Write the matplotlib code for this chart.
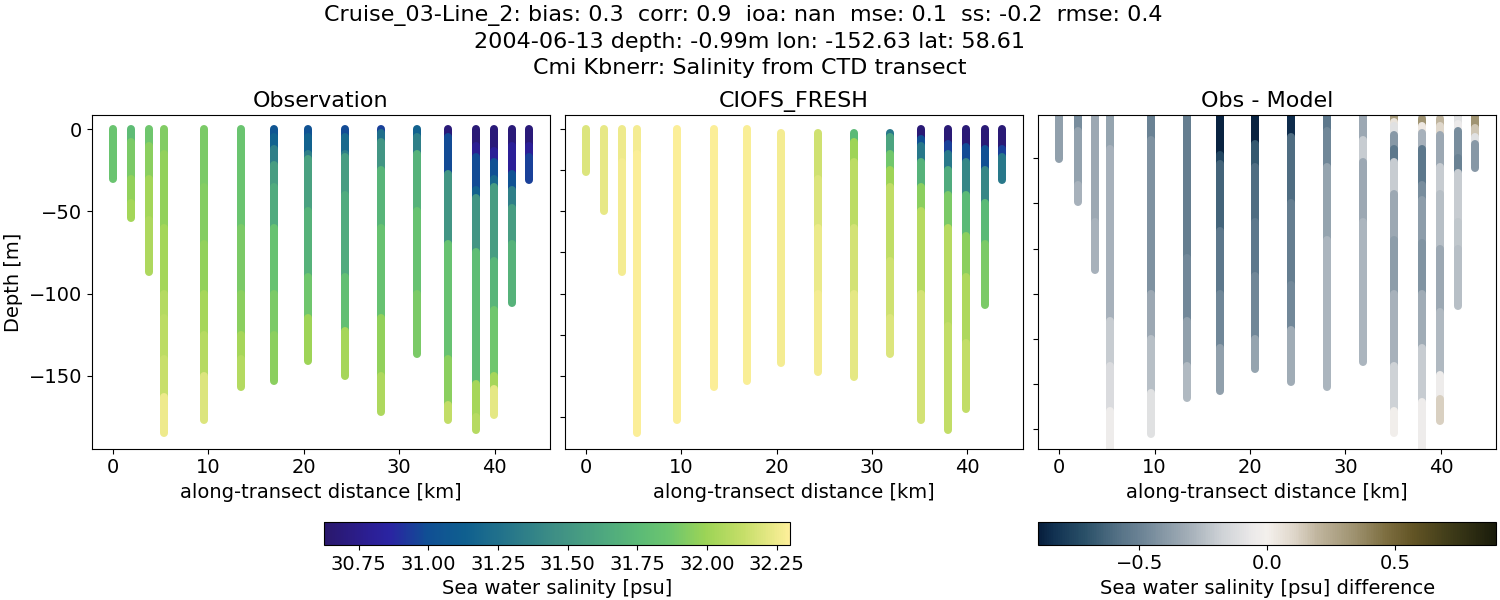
import matplotlib
matplotlib.use('Agg')
import matplotlib.pyplot as plt
from matplotlib.colors import LinearSegmentedColormap, Normalize
from matplotlib.cm import ScalarMappable

# along-transect distance of each cast [km]
distance = [0, 1.93, 3.81, 5.38, 9.6, 13.4, 16.9, 20.5, 24.3, 28.1, 31.85, 35.1, 38.0, 39.9, 41.8, 43.6]

# band edges [m] and salinity of each band, one list per cast
obs_edges = [
    [0, -30],
    [0, -8, -30, -45, -54],
    [0, -10, -30, -55, -87],
    [0, -15, -60, -100, -115, -140, -163, -185],
    [0, -35, -70, -100, -125, -150, -177],
    [0, -60, -100, -125, -140, -157],
    [0, -5, -12, -22, -35, -60, -100, -125, -153],
    [0, -5, -15, -18, -50, -90, -115, -141],
    [0, -5, -15, -17, -40, -90, -123, -150],
    [0, -2, -8, -25, -60, -115, -150, -172],
    [0, -5, -15, -50, -100, -137],
    [0, -5, -27, -70, -140, -168, -177],
    [0, -10, -17, -37, -42, -75, -155, -175, -183],
    [0, -13, -20, -30, -35, -80, -110, -150, -158, -174],
    [0, -10, -27, -37, -48, -70, -106],
    [0, -10, -17, -31],
]
obs_sal = [
    [31.85],
    [31.77, 31.9, 31.97, 32.02],
    [31.87, 31.95, 32.02, 32.05],
    [31.92, 31.97, 32.02, 32.07, 32.1, 32.14, 32.25],
    [31.9, 31.93, 31.97, 32.03, 32.08, 32.2],
    [31.85, 31.9, 31.95, 32.03, 32.07],
    [31.05, 31.15, 31.35, 31.55, 31.65, 31.83, 31.9, 31.95],
    [31.02, 31.15, 31.35, 31.58, 31.7, 31.87, 32.0],
    [30.98, 31.2, 31.35, 31.55, 31.65, 31.8, 32.03],
    [30.95, 31.25, 31.5, 31.72, 31.83, 31.97, 32.05],
    [31.15, 31.35, 31.7, 31.83, 31.9],
    [30.68, 30.98, 31.5, 31.83, 31.95, 32.12],
    [30.67, 30.78, 30.98, 31.15, 31.5, 31.78, 32.03, 32.08],
    [30.68, 30.8, 31.0, 31.2, 31.55, 31.72, 31.87, 32.03, 32.22],
    [30.68, 30.8, 31.02, 31.35, 31.55, 31.7],
    [30.68, 30.8, 30.95],
]

model_edges = [
    [0, -26],
    [0, -50],
    [0, -20, -87],
    [0, -15, -185],
    [0, -177],
    [0, -157],
    [0, -153],
    [-2, -142],
    [-2, -30, -60, -100, -148],
    [-2, -8, -20, -60, -100, -151],
    [-2, -5, -15, -25, -35, -80, -115, -137],
    [0, -6, -10, -20, -35, -50, -100, -177],
    [0, -9, -15, -25, -40, -60, -120, -183],
    [0, -11, -20, -40, -65, -90, -130, -170],
    [0, -12, -25, -45, -70, -107],
    [0, -12, -17, -31],
]
model_sal = [
    [32.2],
    [32.23],
    [32.25, 32.27],
    [32.27, 32.29],
    [32.29],
    [32.29],
    [32.28],
    [32.27],
    [32.16, 32.2, 32.24, 32.27],
    [31.75, 32.0, 32.1, 32.17, 32.22],
    [31.3, 31.6, 31.88, 32.0, 32.11, 32.16, 32.2],
    [30.67, 31.0, 31.3, 31.7, 31.95, 32.08, 32.17],
    [30.67, 30.95, 31.3, 31.65, 31.9, 32.08, 32.12],
    [30.67, 30.98, 31.4, 31.75, 31.95, 32.05, 32.12],
    [30.67, 31.0, 31.4, 31.75, 31.9],
    [30.67, 30.95, 31.3],
]

diff_edges = [
    [0, -25.5],
    [0, -10, -40, -49.4],
    [0, -60, -87],
    [0, -20, -115, -140, -165, -190],
    [0, -15, -100, -125, -155, -177.5],
    [0, -80, -115, -140, -157.7],
    [0, -23, -28, -65, -100, -130, -153.6],
    [0, -17, -30, -60, -90, -125, -141.6],
    [0, -13, -50, -95, -120, -148.7],
    [0, -10, -30, -70, -151.6],
    [0, -15, -27, -60, -137.8],
    [-1, -5, -7, -12, -20, -27, -45, -70, -100, -140, -165, -177],
    [0, -3, -7, -11, -20, -40, -48, -72, -100, -130, -160, -190],
    [0, -3, -7, -12, -30, -45, -75, -110, -145, -158, -170.5],
    [0, -2, -6, -10, -25, -33, -60, -75, -106.9],
    [-1, -8, -13, -17, -30.4],
]
diff_sal = [
    [-0.37],
    [-0.45, -0.36, -0.3],
    [-0.33, -0.3],
    [-0.35, -0.3, -0.2, -0.13, -0.04],
    [-0.5, -0.43, -0.33, -0.25, -0.1],
    [-0.52, -0.47, -0.37, -0.27],
    [-0.88, -0.75, -0.63, -0.55, -0.48, -0.37],
    [-0.88, -0.68, -0.6, -0.55, -0.48, -0.35],
    [-0.85, -0.6, -0.52, -0.47, -0.32],
    [-0.55, -0.48, -0.35, -0.28],
    [-0.33, -0.2, -0.33, -0.28],
    [0.3, 0.05, -0.1, -0.4, -0.55, -0.2, -0.33, -0.38, -0.3, -0.18, -0.02],
    [-0.2, 0.33, 0.03, -0.3, -0.55, -0.45, -0.38, -0.42, -0.32, -0.2, -0.04],
    [-0.05, 0.2, 0.1, -0.33, -0.2, -0.25, -0.33, -0.27, -0.04, 0.12],
    [-0.3, -0.1, -0.05, -0.45, -0.5, -0.2, -0.22, -0.25],
    [0.33, 0.15, -0.1, -0.4],
]

# cmocean is not available, so both maps are rebuilt from colours read off the colorbars
haline = LinearSegmentedColormap.from_list('haline', [
    (0.00, '#2a186c'), (0.10, '#2b1f96'), (0.14, '#2a24a2'), (0.22, '#104f94'),
    (0.30, '#0f5f8f'), (0.40, '#27778a'), (0.50, '#3f9085'), (0.60, '#4ea87f'),
    (0.68, '#5cbb76'), (0.74, '#6cc56f'), (0.82, '#9cd456'), (0.90, '#c5de68'),
    (1.00, '#fdef9a')])
diff_map = LinearSegmentedColormap.from_list('diff', [
    (0.00, '#071e3c'), (0.03, '#103050'), (0.10, '#2a5068'), (0.18, '#587488'),
    (0.22, '#6a8294'), (0.32, '#9fabb5'), (0.40, '#ced2d6'), (0.47, '#eceaea'),
    (0.50, '#f4f0ec'), (0.556, '#e0d8cc'), (0.61, '#c0b59e'), (0.687, '#a09472'),
    (0.76, '#7d6e40'), (0.82, '#625425'), (0.905, '#3d3a18'), (1.00, '#1a1c0b')])

sal_norm = Normalize(30.627, 32.298)
diff_norm = Normalize(-0.895, 0.895)

fs = 14
fig = plt.figure(figsize=(15, 6), dpi=100)
W, H = 1500., 600.


def px_axes(left, right, top, bottom):
    return fig.add_axes([left / W, 1 - bottom / H, (right - left) / W, (bottom - top) / H])


def draw_casts(ax, edges, values, cmap, norm):
    # deeper bands go on top of the shallower ones
    for x, e, v in zip(distance, edges, values):
        ax.vlines([x] * len(v), e[:-1], e[1:], colors=[cmap(norm(s)) for s in v],
                  linewidth=5.76, capstyle='round')


ax1 = px_axes(92.0, 549.8, 115.3, 448.5)
ax2 = px_axes(564.8, 1022.6, 115.3, 448.5)
ax3 = px_axes(1038.3, 1496.1, 115.3, 448.5)

draw_casts(ax1, obs_edges, obs_sal, haline, sal_norm)
draw_casts(ax2, model_edges, model_sal, haline, sal_norm)
draw_casts(ax3, diff_edges, diff_sal, diff_map, diff_norm)

for ax, title in zip([ax1, ax2, ax3], ['Observation', 'CIOFS_FRESH', 'Obs - Model']):
    ax.set_title(title, fontsize=16, pad=6)
    ax.set_xlim(-2.18, 45.78)
    ax.set_xticks([0, 10, 20, 30, 40])
    ax.set_xlabel('along-transect distance [km]', fontsize=fs)
    ax.tick_params(labelsize=fs)

ax1.set_ylim(-194.3, 8.5)
ax1.set_yticks([0, -50, -100, -150])
ax1.set_ylabel('Depth [m]', fontsize=fs)

ax2.set_ylim(-194.3, 8.5)
ax2.set_yticks([0, -25, -50, -75, -100, -125, -150, -175])
ax2.set_yticklabels([])

ax3.set_ylim(-185.6, -1.2)
ax3.set_yticks([-25, -50, -75, -100, -125, -150, -175])
ax3.set_yticklabels([])

cax1 = px_axes(324.4, 790.0, 522.3, 545)
cb1 = fig.colorbar(ScalarMappable(sal_norm, haline), cax=cax1, orientation='horizontal')
cb1.set_ticks([30.75, 31.0, 31.25, 31.5, 31.75, 32.0, 32.25])
cb1.set_ticklabels(['30.75', '31.00', '31.25', '31.50', '31.75', '32.00', '32.25'])
cb1.ax.tick_params(labelsize=fs)
cb1.set_label('Sea water salinity [psu]', fontsize=fs)

cax2 = px_axes(1038.3, 1496.1, 522.3, 544.5)
cb2 = fig.colorbar(ScalarMappable(diff_norm, diff_map), cax=cax2, orientation='horizontal')
cb2.set_ticks([-0.5, 0.0, 0.5])
cb2.ax.tick_params(labelsize=fs)
cb2.set_label('Sea water salinity [psu] difference', fontsize=fs)

fig.suptitle('Cruise_03-Line_2: bias: 0.3  corr: 0.9  ioa: nan  mse: 0.1  ss: -0.2  rmse: 0.4  \n'
             '2004-06-13 depth: -0.99m lon: -152.63 lat: 58.61\n'
             'Cmi Kbnerr: Salinity from CTD transect', fontsize=16, x=0.5, y=0.991, linespacing=1.35)

fig.savefig('out.png', dpi=100)
